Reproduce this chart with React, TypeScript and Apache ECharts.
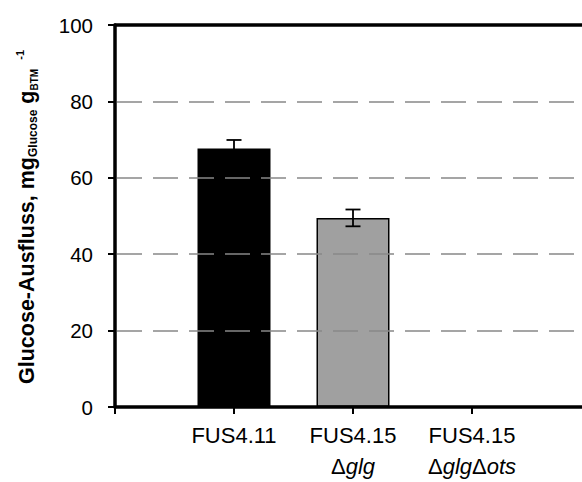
import React, { useEffect, useRef } from "react";
import * as echarts from "echarts";

const categories = ["", "FUS4.11", "FUS4.15\n{n|Δ}{i|glg}", "FUS4.15\n{n|Δ}{i|glg}{n|Δ}{i|ots}", ""];
const means: (number | null)[] = [null, 67.7, 49.5, 0, null];
const errors: (number | null)[] = [null, 2.2, 2.2, null, null];
const barColors = ["#000000", "#000000", "#a0a0a0", "#ffffff", "#ffffff"];
const yTicks = [0, 20, 40, 60, 80, 100];

export default function App() {
  const ref = useRef<HTMLDivElement>(null);
  useEffect(() => {
    if (!ref.current) return;
    const chart = echarts.init(ref.current, undefined, { renderer: "svg" });
    const errData: number[][] = [];
    means.forEach((m, i) => {
      const e = errors[i];
      if (m !== null && e !== null) errData.push([i, m, e]);
    });
    const font = "'Liberation Sans', Arial, sans-serif";
    chart.setOption({
      animation: false,
      backgroundColor: "#ffffff",
      grid: {
        left: 115,
        top: 25,
        width: 476,
        height: 382,
        outerBoundsMode: "none",
        containLabel: false,
        show: false,
      },
      graphic: [
        {
          type: "text",
          x: 26.5,
          y: 384,
          rotation: Math.PI / 2,
          z: 10,
          style: {
            text: "{b|Glucose-Ausfluss, mg}{s|Glucose}{b| g}{t|BTM}{p|   -1}",
            textAlign: "left",
            textVerticalAlign: "middle",
            fill: "#000",
            rich: {
              b: { fontFamily: font, fontSize: 21.5, fontWeight: "bold", fill: "#000", verticalAlign: "middle", lineHeight: 25 },
              s: { fontFamily: font, fontSize: 12, fontWeight: "bold", fill: "#000", verticalAlign: "bottom", lineHeight: 12 },
              t: { fontFamily: font, fontSize: 10, fontWeight: "bold", fill: "#000", verticalAlign: "bottom", lineHeight: 10 },
              p: { fontFamily: font, fontSize: 11, fontWeight: "bold", fill: "#000", verticalAlign: "top", lineHeight: 12 },
            },
          },
        },
      ],
      xAxis: [
        {
          type: "category",
          data: categories,
          boundaryGap: false,
          axisLine: { show: true, lineStyle: { color: "#000", width: 3.5 } },
          axisTick: { show: true, length: 7, lineStyle: { color: "#000", width: 2 } },
          axisLabel: {
            color: "#000",
            fontFamily: font,
            fontSize: 22,
            lineHeight: 31,
            margin: 13,
            interval: 0,
            rich: {
              n: { fontFamily: font, fontSize: 22, color: "#000", lineHeight: 31 },
              i: { fontFamily: font, fontSize: 22, color: "#000", fontStyle: "italic", lineHeight: 31 },
            },
          },
          splitLine: { show: false },
          z: 5,
        },
        {
          type: "category",
          data: categories,
          position: "top",
          boundaryGap: false,
          axisLine: { show: true, lineStyle: { color: "#000", width: 3.5 } },
          axisTick: { show: false },
          axisLabel: { show: false },
          splitLine: { show: false },
          z: 5,
        },
      ],
      yAxis: {
        type: "value",
        min: 0,
        max: 100,
        interval: 20,
        axisLine: { show: true, lineStyle: { color: "#000", width: 3.5 } },
        axisTick: { show: true, length: 7, lineStyle: { color: "#000", width: 2 } },
        axisLabel: {
          color: "#000",
          fontFamily: font,
          fontSize: 20.5,
          margin: 22,
          formatter: (v: number) => (yTicks.includes(v) ? String(v) : ""),
        },
        splitLine: {
          show: true,
          lineStyle: { color: "#888888", width: 1.5, type: [25, 11], dashOffset: -2 },
        },
        z: 5,
      },
      series: [
        {
          type: "bar",
          data: means.map((m, i) => ({
            value: m,
            itemStyle: { color: barColors[i], borderColor: "#000", borderWidth: m ? 1.5 : 0 },
          })),
          barWidth: 73,
          z: 2,
        },
        {
          type: "custom",
          data: errData,
          z: 3,
          renderItem: (params: any, api: any) => {
            const x = api.value(0);
            const m = api.value(1);
            const e = api.value(2);
            const top = api.coord([x, m + e]);
            const bot = api.coord([x, m - e]);
            const hw = 7.5;
            const style = { stroke: "#000", lineWidth: 1.8 };
            return {
              type: "group",
              children: [
                { type: "line", shape: { x1: top[0], y1: top[1], x2: bot[0], y2: bot[1] }, style },
                { type: "line", shape: { x1: top[0] - hw, y1: top[1], x2: top[0] + hw, y2: top[1] }, style },
                { type: "line", shape: { x1: bot[0] - hw, y1: bot[1], x2: bot[0] + hw, y2: bot[1] }, style },
              ],
            };
          },
        },
      ],
    });
    return () => chart.dispose();
  }, []);
  return (
    <div
      ref={ref}
      style={{ position: "fixed", left: 0, top: 0, width: 582, height: 482, background: "#fff" }}
    />
  );
}
